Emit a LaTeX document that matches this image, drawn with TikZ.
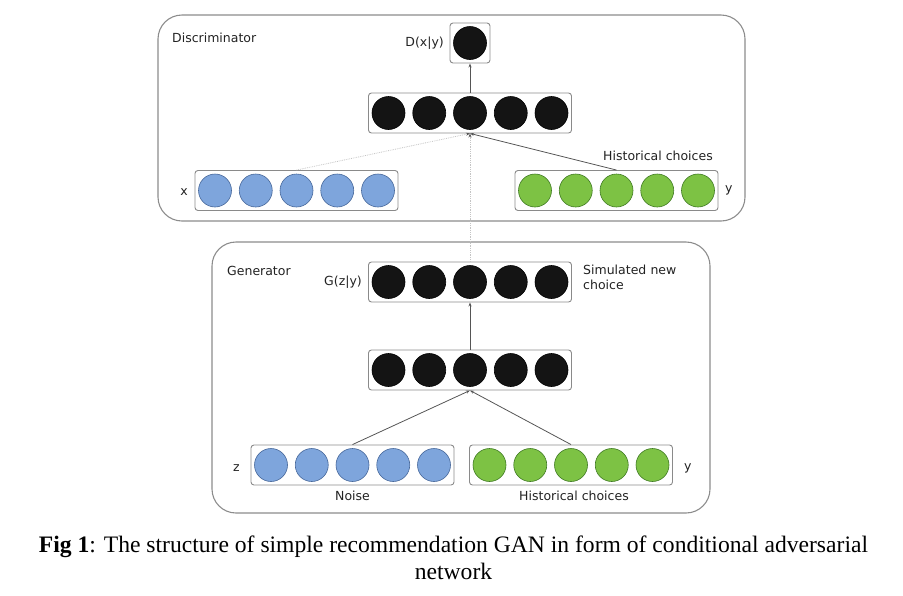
\documentclass[tikz,border=0pt]{standalone}
\usepackage{fontspec}
\setmainfont{Liberation Serif}
\newfontfamily\dejaf{DejaVu Sans}
\usetikzlibrary{arrows.meta}
\definecolor{boxgray}{HTML}{8A8A8A}
\definecolor{biggray}{HTML}{8C8C8C}
\definecolor{bluefill}{HTML}{7EA5DC}
\definecolor{blueedge}{HTML}{46679A}
\definecolor{greenfill}{HTML}{7DC244}
\definecolor{greenedge}{HTML}{3F7A22}
\definecolor{lightline}{HTML}{C4C4C4}
\definecolor{conn}{HTML}{555555}
\definecolor{txt}{HTML}{222222}
\tikzset{
  bigbox/.style={draw=biggray, line width=1.1pt, rounded corners=24pt},
  layerbox/.style={draw=boxgray, line width=0.9pt, rounded corners=3pt, minimum width=203pt, minimum height=40pt, inner sep=0pt},
  smallbox/.style={draw=boxgray, line width=0.9pt, rounded corners=3pt, minimum width=40pt, minimum height=40pt, inner sep=0pt},
  unit/.style={circle, minimum size=33pt, inner sep=0pt, line width=0.6pt},
  blackunit/.style={unit, draw=black, fill=black!92},
  blueunit/.style={unit, draw=blueedge, fill=bluefill},
  greenunit/.style={unit, draw=greenedge, fill=greenfill},
  lab/.style={font=\dejaf\fontsize{12.5}{14.5}\selectfont, text=txt, inner sep=0pt},
  edge/.style={draw=conn, line width=0.8pt, -{Stealth[length=4pt,width=3pt]}},
  faint/.style={draw=lightline, line width=0.8pt, densely dotted, -{Stealth[length=4pt,width=3pt,conn]}},
}
\newcommand\mylayer[4]{%
  \node[layerbox] (#1) at (#2,#3) {};
  \foreach \k in {1,...,5} {
    \node[#4] (#1-\k) at ({#2+(\k-3)*40.75},#3) {};
  }
}
\begin{document}
\begin{tikzpicture}[x=1pt,y=-1pt]
\useasboundingbox (0,0) rectangle (903,595);
% big boxes
\draw[bigbox] (158,15) rectangle (745,221);
\draw[bigbox] (212,242) rectangle (710,513);
\node[lab, anchor=base west] (disc) at (172,42) {Discriminator};
\node[lab, anchor=base west] (gen) at (227,275) {Generator};
% discriminator
\node[smallbox] (dout) at (470,43) {};
\node[blackunit] (dout-1) at (470,43) {};
\node[lab, anchor=east] (dlab) at (444,43) {D(x|y)};
\mylayer{dh}{470}{113}{blackunit}
\mylayer{xl}{296.5}{190.5}{blueunit}
\mylayer{yl}{616.5}{190.5}{greenunit}
\node[lab, anchor=east] (xlab) at (188,192) {x};
\node[lab, anchor=west] (ylab) at (725,190) {y};
\node[lab, anchor=base] (hist1) at (658,160) {Historical choices};
% generator
\mylayer{gg}{470}{282}{blackunit}
\node[lab, anchor=east] (glab) at (362,282) {G(z|y)};
\node[lab, anchor=north west, align=left, text width=120pt] (sim) at (583,265) {Simulated new\\choice};
\mylayer{gh}{470}{370}{blackunit}
\mylayer{zl}{352.5}{465}{blueunit}
\mylayer{gy}{571}{465}{greenunit}
\node[lab, anchor=east] (zlab) at (240,468) {z};
\node[lab, anchor=west] (gylab) at (684,468) {y};
\node[lab, anchor=base] (noise) at (352.5,500) {Noise};
\node[lab, anchor=base] (hist2) at (574,500) {Historical choices};
% connectors
\draw[edge] (dh.north) -- (dout.south);
\draw[faint] (xl.north) -- (dh.south);
\draw[edge] (yl.north) -- (dh.south);
\draw[faint] (gg.north) -- (dh.south);
\draw[edge] (gh.north) -- (gg.south);
\draw[edge] (zl.north) -- (gh.south);
\draw[edge] (gy.north) -- (gh.south);
% caption
\node[anchor=base, inner sep=0pt, font=\fontsize{23.6}{26}\selectfont] (cap1) at (453.5,552) {\textbf{Fig 1}: The structure of simple recommendation GAN in form of conditional adversarial};
\node[anchor=base, inner sep=0pt, font=\fontsize{23.6}{26}\selectfont] (cap2) at (453.5,579) {network};
\end{tikzpicture}
\end{document}
